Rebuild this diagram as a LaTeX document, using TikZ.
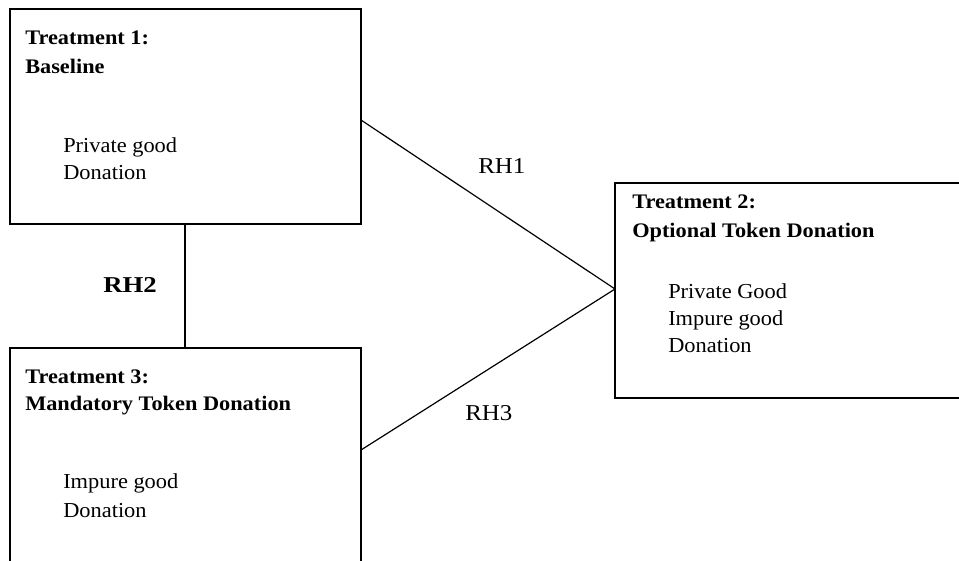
\documentclass[tikz,border=0pt]{standalone}
\usepackage{fontspec}
\setmainfont{Liberation Serif}
\newfontfamily\hdfont[FakeStretch=1.08]{Liberation Serif}
\newfontfamily\bdfont[FakeStretch=1.05]{Liberation Serif}
\newfontfamily\lbfont[FakeStretch=1.1]{Liberation Serif}
\newfontfamily\lbbfont[FakeStretch=1.18]{Liberation Serif}
\begin{document}
\begin{tikzpicture}[x=0.75pt,y=-0.75pt,
  box/.style={draw=black,line width=1.5pt,fill=none},
  hd/.style={anchor=base west,inner sep=0pt,font=\hdfont\fontsize{15.5}{18}\selectfont\bfseries},
  bd/.style={anchor=base west,inner sep=0pt,font=\bdfont\fontsize{16}{18}\selectfont},
  lbl/.style={anchor=base west,inner sep=0pt,font=\lbfont\fontsize{17}{18}\selectfont},
  lblb/.style={anchor=base west,inner sep=0pt,font=\lbbfont\fontsize{17}{18}\selectfont\bfseries},
  conn/.style={draw=black,line width=0.9pt}]
\useasboundingbox (0,0) rectangle (959,560);
\clip (0,0) rectangle (959,560);
\fill[white] (0,0) rectangle (959,560);
% boxes
\coordinate (b1nw) at (10,9);
\coordinate (b1se) at (361,224);
\draw[box] (b1nw) rectangle (b1se);
\coordinate (b3nw) at (10,348);
\coordinate (b3se) at (361,600);
\draw[box] (b3nw) rectangle (b3se);
\coordinate (b2nw) at (615,183);
\coordinate (b2se) at (1000,398);
\draw[box] (b2nw) rectangle (b2se);
% connector endpoints
\coordinate (c1) at (361,120);
\coordinate (c3) at (361,450);
\coordinate (c2) at (615,289);
\coordinate (v1) at (185,224);
\coordinate (v3) at (185,348);
\draw[conn] (c1) -- (c2);
\draw[conn] (c3) -- (c2);
\draw[box] (v1) -- (v3);
% box 1 text
\node[hd] (t1a) at (25,45) {Treatment 1:};
\node[hd] (t1b) at (25,74) {Baseline};
\node[bd] (t1c) at (63,152) {Private good};
\node[bd] (t1d) at (63,179) {Donation};
% box 3 text
\node[hd] (t3a) at (25,383) {Treatment 3:};
\node[hd] (t3b) at (25,410) {Mandatory Token Donation};
\node[bd] (t3c) at (63,488) {Impure good};
\node[bd] (t3d) at (63,517) {Donation};
% box 2 text
\node[hd] (t2a) at (632,208) {Treatment 2:};
\node[hd] (t2b) at (632,237) {Optional Token Donation};
\node[bd] (t2c) at (668,298) {Private Good};
\node[bd] (t2d) at (668,325) {Impure good};
\node[bd] (t2e) at (668,352) {Donation};
% labels
\node[lbl] (rh1) at (478,173) {RH1};
\node[lblb] (rh2) at (103,292) {RH2};
\node[lbl] (rh3) at (465,420) {RH3};
\end{tikzpicture}
\end{document}
